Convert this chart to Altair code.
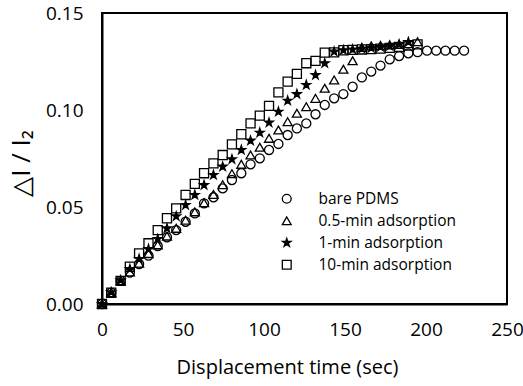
import altair as alt
import pandas as pd

# ---- data ----
times = [0.0, 5.7, 11.5, 17.2, 22.9, 28.7, 34.4, 40.1, 45.8, 51.6,
         57.3, 63.0, 68.8, 74.5, 80.2, 86.0, 91.7, 97.4, 103.1, 108.9,
         114.6, 120.3, 126.1, 131.8, 137.5, 143.3, 149.0, 154.7, 160.4, 166.2,
         171.9, 177.6, 183.4, 189.1, 194.8, 200.6, 206.3, 212.0, 217.7, 223.5]

bare_pdms = [0.0, 0.0058, 0.0119, 0.0162, 0.0206, 0.0249, 0.0299, 0.0344, 0.0381, 0.0424,
             0.0467, 0.0519, 0.0550, 0.0596, 0.0639, 0.0674, 0.0720, 0.0751, 0.0794, 0.0825,
             0.0871, 0.0905, 0.0931, 0.0978, 0.1026, 0.1060, 0.1082, 0.1120, 0.1168, 0.1198,
             0.1229, 0.1261, 0.1278, 0.1292, 0.1298, 0.1306, 0.1306, 0.1306, 0.1306, 0.1306]

ads_05min = [0.0, 0.0058, 0.0120, 0.0165, 0.0210, 0.0260, 0.0305, 0.0350, 0.0390, 0.0432,
             0.0475, 0.0522, 0.0565, 0.0615, 0.0672, 0.0720, 0.0768, 0.0808, 0.0854, 0.0897,
             0.0940, 0.0983, 0.1017, 0.1060, 0.1112, 0.1155, 0.1210, 0.1254, 0.1322, 0.1330,
             0.1333, 0.1335, 0.1338, 0.1342, 0.1352]

ads_1min = [0.0, 0.0060, 0.0122, 0.0180, 0.0232, 0.0283, 0.0335, 0.0390, 0.0452, 0.0510,
            0.0562, 0.0613, 0.0665, 0.0708, 0.0746, 0.0794, 0.0842, 0.0883, 0.0935, 0.0991,
            0.1048, 0.1082, 0.1129, 0.1180, 0.1241, 0.1301, 0.1308, 0.1312, 0.1316, 0.1320,
            0.1325, 0.1330, 0.1338, 0.1350]

ads_10min = [0.0, 0.0058, 0.0119, 0.0192, 0.0261, 0.0313, 0.0381, 0.0442, 0.0493, 0.0562,
             0.0619, 0.0674, 0.0725, 0.0768, 0.0823, 0.0875, 0.0931, 0.0971, 0.1021, 0.1091,
             0.1146, 0.1186, 0.1241, 0.1253, 0.1296, 0.1297, 0.1308, 0.1310, 0.1312, 0.1314,
             0.1316, 0.1320, 0.1325, 0.1332, 0.1338]

series_names = ["bare PDMS", "0.5-min adsorption", "1-min adsorption", "10-min adsorption"]
x_tick_values = [0, 50, 100, 150, 200, 250]
y_tick_values = [0.0, 0.05, 0.10, 0.15]

rows = []
for name, vals in zip(series_names, [bare_pdms, ads_05min, ads_1min, ads_10min]):
    for t, v in zip(times, vals):
        rows.append({"time": t, "val": v, "series": name})
df = pd.DataFrame(rows)

STAR = ("M0,-1L0.2245,-0.309L0.9511,-0.309L0.3633,0.118L0.5878,0.809L0,0.382"
        "L-0.5878,0.809L-0.3633,0.118L-0.9511,-0.309L-0.2245,-0.309Z")

FONT = "Open Sans"
W, H = 405, 291

x_scale = alt.Scale(domain=[0, 250], nice=False, zero=False)
y_scale = alt.Scale(domain=[0, 0.15], nice=False, zero=False)

x_axis = alt.Axis(values=x_tick_values, format="d", ticks=False, grid=False,
                  domain=True, domainColor="black", domainWidth=2,
                  labelFlush=False, labelOverlap=False,
                  labelFontSize=19, labelColor="black", labelPadding=16,
                  title="Displacement time (sec)", titleFontSize=20,
                  titleFontWeight="normal", titleColor="black",
                  titleX=185, titleY=69, titleBaseline="alphabetic", titleAlign="center")
y_axis = alt.Axis(values=y_tick_values, format=".2f", ticks=False, grid=False,
                  domain=True, domainColor="black", domainWidth=2,
                  labelFlush=False, labelOverlap=False,
                  labelFontSize=19, labelColor="black", labelPadding=19,
                  title="△I / I₂", titleFontSize=26, titleFontWeight="normal",
                  titleColor="black", titleX=-81, titleY=150, titleBaseline="middle",
                  titleAlign="center", titleAngle=270)

legend_cfg = dict(title=None, orient="none", legendX=177, legendY=178,
                  symbolSize=78, symbolStrokeWidth=1.3,
                  labelFontSize=15.5, labelColor="black", labelFont=FONT,
                  labelOffset=24, rowPadding=5, padding=0)

chart = alt.Chart(df).mark_point(
    filled=True, strokeWidth=1.3, opacity=1, size=82
).encode(
    x=alt.X("time:Q", scale=x_scale, axis=x_axis),
    y=alt.Y("val:Q", scale=y_scale, axis=y_axis),
    shape=alt.Shape("series:N",
                    scale=alt.Scale(domain=series_names,
                                    range=["circle", "triangle-up", STAR, "square"]),
                    legend=alt.Legend(**legend_cfg)),
    fill=alt.Fill("series:N",
                  scale=alt.Scale(domain=series_names,
                                  range=["transparent", "transparent", "black", "transparent"]),
                  legend=alt.Legend(**legend_cfg)),
    stroke=alt.Stroke("series:N",
                      scale=alt.Scale(domain=series_names,
                                      range=["black", "black", "black", "black"]),
                      legend=alt.Legend(**legend_cfg)),
).properties(
    width=W, height=H,
    autosize=alt.AutoSizeParams(type="none"),
    padding={"left": 102, "top": 13, "right": 16, "bottom": 82},
).configure(
    font=FONT,
    background="white",
    view=alt.ViewConfig(stroke="black", strokeWidth=2),
)

chart.save("out.html", embed_options={"renderer": "svg", "actions": False})
